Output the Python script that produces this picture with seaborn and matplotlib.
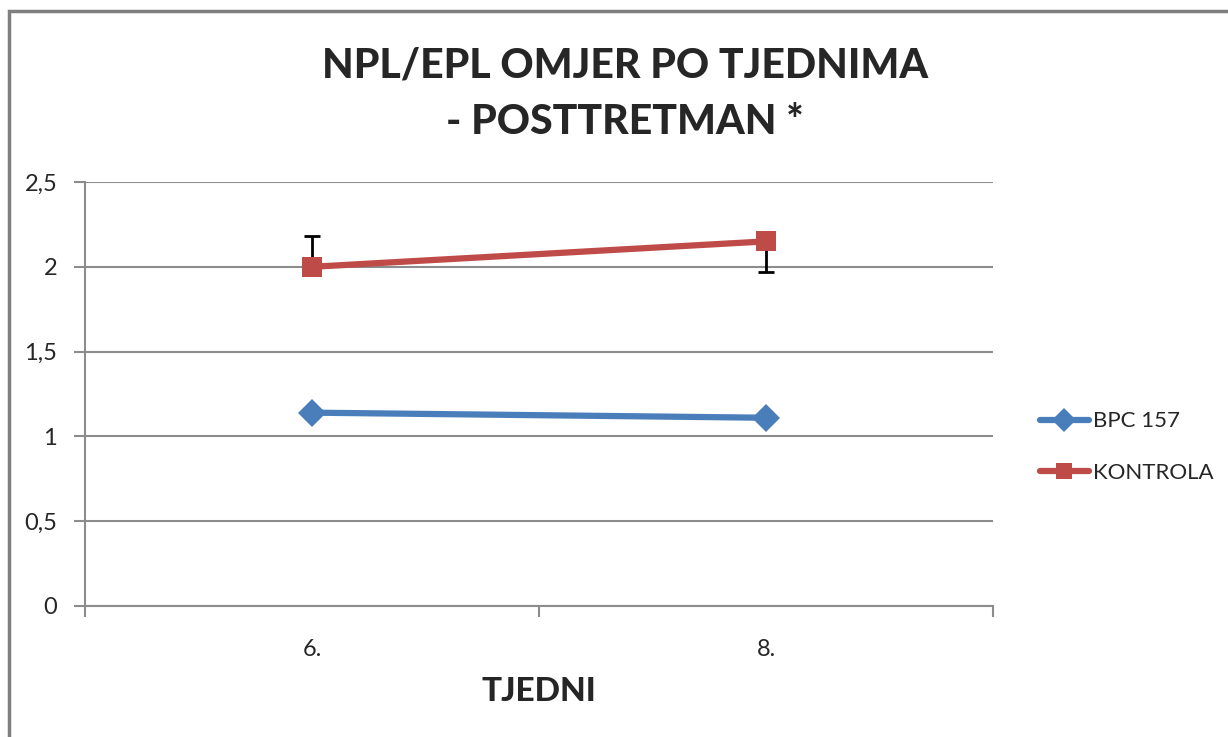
import numpy as np
import pandas as pd
import matplotlib as mpl
mpl.use('Agg')
import matplotlib.pyplot as plt
import seaborn as sns
from matplotlib.patches import Rectangle

weeks = ['6.', '8.']
groups = ['BPC 157', 'KONTROLA']
bpc_vals = [1.14, 1.11]
kontrola_vals = [2.00, 2.15]
# one-sided error bars as drawn in the original (lower, upper)
bpc_err_lo = [0.035, 0.0]
bpc_err_hi = [0.0, 0.035]
kontrola_err_lo = [0.0, 0.18]
kontrola_err_hi = [0.18, 0.0]

sns.set_style('white')
plt.rcParams['font.family'] = ['Lato', 'DejaVu Sans']

df = pd.DataFrame({
    'week': weeks * 2,
    'pos': list(range(len(weeks))) * 2,
    'val': bpc_vals + kontrola_vals,
    'grp': [groups[0]] * 2 + [groups[1]] * 2,
})

colours = {'BPC 157': '#4a7ebb', 'KONTROLA': '#be4b48'}
markers = {'BPC 157': 'D', 'KONTROLA': 's'}

fig = plt.figure(figsize=(12.28, 7.37), dpi=100)
ax = fig.add_axes([85 / 1228, 1 - 606 / 737, 908 / 1228, 424 / 737])

ax.errorbar(range(len(weeks)), bpc_vals, yerr=[bpc_err_lo, bpc_err_hi],
            fmt='none', ecolor='black', elinewidth=1.5, capsize=5,
            capthick=1.5, zorder=2)
ax.errorbar(range(len(weeks)), kontrola_vals,
            yerr=[kontrola_err_lo, kontrola_err_hi],
            fmt='none', ecolor='black', elinewidth=2, capsize=6,
            capthick=2, zorder=2)

sns.lineplot(data=df, x='pos', y='val', hue='grp', style='grp',
             palette=colours, markers=markers, dashes=False,
             linewidth=4.5, markersize=14, markeredgewidth=0, ax=ax,
             zorder=3)

ax.set_xlim(-0.5, 1.5)
ax.set_ylim(0, 2.5)
ax.set_yticks(np.arange(0, 2.51, 0.5))
ax.set_yticklabels(['0', '0,5', '1', '1,5', '2', '2,5'])
ax.set_xticks(range(len(weeks)))
ax.set_xticklabels(weeks)
ax.set_xticks([-0.5, 0.5, 1.5], minor=True)
ax.tick_params(axis='x', which='major', bottom=False, length=0, pad=24,
               labelsize=17)
ax.tick_params(axis='x', which='minor', bottom=True, length=8, width=1.5,
               color='#8c8c8c', direction='out')
ax.tick_params(axis='y', left=True, length=8, width=1.5, color='#8c8c8c',
               direction='out', labelsize=17, pad=12)

ax.grid(axis='y', color='#8c8c8c', linewidth=1.5)
ax.set_axisbelow(True)
for side in ['top', 'right']:
    ax.spines[side].set_visible(False)
for side in ['left', 'bottom']:
    ax.spines[side].set_color('#8c8c8c')
    ax.spines[side].set_linewidth(1.5)

ax.set_xlabel('TJEDNI', fontsize=24, weight='black', labelpad=12)
ax.set_ylabel('')

fig.text(625 / 1228, 1 - 94 / 737, 'NPL/EPL OMJER PO TJEDNIMA\n- POSTTRETMAN *',
         ha='center', va='center', fontsize=29.5, weight='black',
         linespacing=1.6)

handles, labels = ax.get_legend_handles_labels()
leg = ax.legend(handles, labels, loc='center left',
                bbox_to_anchor=(1020 / 1228, 1 - 447 / 737),
                bbox_transform=fig.transFigure, frameon=False,
                fontsize=16, handlelength=2.2, labelspacing=1.4,
                handletextpad=0.2, markerscale=0.85)

fig.patches.append(Rectangle((9 / 1228, -0.1), 1.1, 1.1 - 11 / 737,
                             transform=fig.transFigure, fill=False,
                             edgecolor='#7f7f7f', linewidth=2.5))

fig.savefig('out.png', dpi=100, facecolor='white')
plt.close()
